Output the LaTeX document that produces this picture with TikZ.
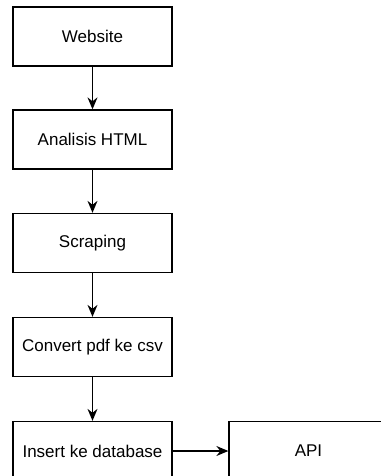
\documentclass[tikz,border=0pt]{standalone}
\usepackage{fontspec}
\setmainfont{Liberation Sans}
\usetikzlibrary{arrows.meta}

\begin{document}
\begin{tikzpicture}[x=1pt,y=-1pt,
	proses/.style={draw, line width=1.3pt, minimum width=159pt, minimum height=59pt, inner sep=0pt, font=\fontsize{17}{20}\selectfont},
	panah/.style={line width=1.3pt, -{Stealth[length=12pt,width=10pt,inset=4pt]}}]
	\useasboundingbox (0,0) rectangle (380,476);
		\node[proses] (web) at (92.5,36.5) {Website};
		\node[proses] (html) at (92.5,139.5) {Analisis HTML};
		\node[proses] (scrap) at (92.5,243) {Scraping};
		\node[proses] (conv) at (92.5,347) {Convert pdf ke csv};
		\node[proses] (db) at (92.5,451) {Insert ke database};
		\node[proses] (api) at (308.5,451) {API};
	%	alur
		\draw[panah] (web) -- (html);
		\draw[panah] (html) -- (scrap);
		\draw[panah] (scrap) -- (conv);
		\draw[panah] (conv) -- (db);
		\draw[panah] (db) -- (api);
	\end{tikzpicture}
\end{document}
